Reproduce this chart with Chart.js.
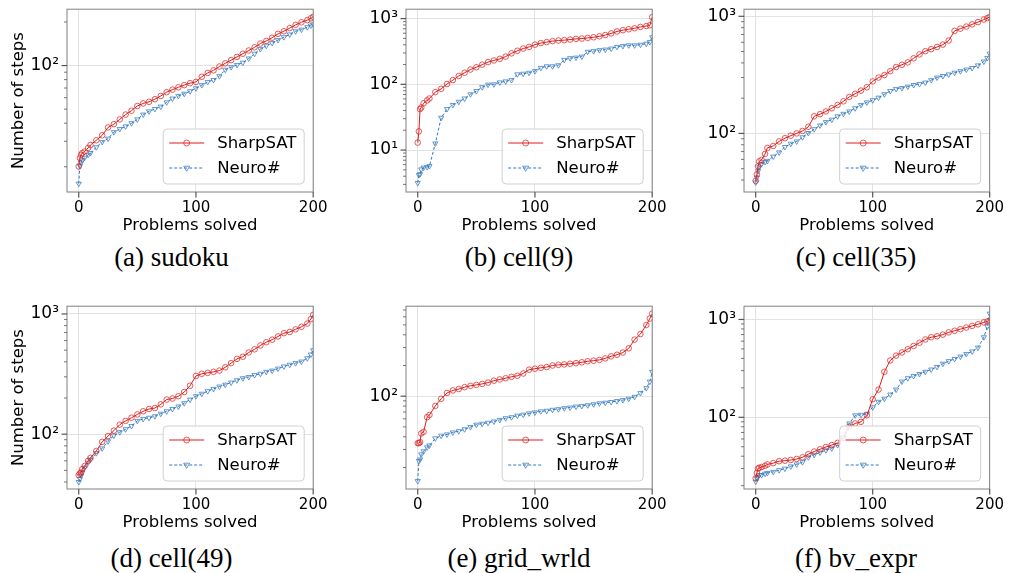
<!DOCTYPE html>
<html>
<head>
<meta charset="utf-8">
<title>Steps per problem solved</title>
<script src="https://cdn.jsdelivr.net/npm/chart.js@4.4.1/dist/chart.umd.min.js"></script>
<style>
  html, body { margin: 0; padding: 0; background: #fff; }
  body { width: 1011px; height: 573px; position: relative; overflow: hidden; }
  .panel { position: absolute; }
  .caption {
    position: absolute; width: 260px; text-align: center; white-space: nowrap;
    font-family: 'Liberation Serif', serif; font-size: 27px; line-height: 30px; color: #000;
  }
</style>
</head>
<body>

<script>
const problemsSolved = [0, 1, 2, 3, 5, 8, 10, 15, 20, 25, 30, 35, 40, 45, 50, 55, 60, 65, 70, 75,
  80, 85, 90, 95, 100, 105, 110, 115, 120, 125, 130, 135, 140, 145, 150, 155, 160, 165, 170, 175,
  180, 185, 190, 195, 198, 200];

// (a) sudoku
const sudokuSharp = [20.1, 23, 24.2, 24.9, 25.5, 27, 28.3, 30.5, 33, 37.4,
  39.4, 42.5, 45.9, 48.8, 52.6, 54.8, 56.2, 58.6, 61.7, 65.5,
  68.2, 70.8, 73.3, 75.6, 77.1, 83.7, 88.9, 92.7, 98.5, 103.6,
  109, 114.8, 120.7, 127, 133.7, 142, 148, 155.7, 165.6, 172.5,
  181.5, 191, 199, 206, 212, 217];
const sudokuNeuro = [15.3, 20.3, 21.4, 22.2, 23.1, 24.2, 24.9, 27.3, 29.7, 31.3,
  34.7, 36.5, 38, 40, 42.5, 45.9, 48.3, 50.2, 52.1, 55.7,
  59.2, 61.7, 63.9, 66.5, 69.7, 73.3, 77.1, 79.5, 84.5, 93.6,
  97.5, 101, 104.7, 112, 120.7, 130, 137, 143, 150, 157,
  164, 172.5, 177, 184, 189, 193];

// (b) cell(9)
const cell9Sharp = [13, 19.2, 42, 44.4, 51.4, 57, 60.8, 76.2, 85.3, 101,
  116, 134, 150, 168, 182, 199, 218, 231, 244, 264,
  296, 324, 350, 371, 401, 424, 439, 454, 464, 470,
  480, 491, 497, 508, 520, 538, 562, 595, 637, 667,
  689, 713, 746, 771, 790, 1050];
const cell9Neuro = [3.16, 4.15, 4.3, 5.08, 5.4, 5.5, 5.7, 12.6, 31, 42,
  48.5, 54.3, 60.8, 70.5, 78.9, 90.4, 98.9, 100, 107, 111,
  116, 142, 145, 150, 159, 178, 188, 188, 195, 236,
  250, 255, 264, 313, 320, 331, 338, 350, 371, 383,
  392, 392, 401, 415, 440, 520];

// (c) cell(35)
const cell35Sharp = [39.4, 44.7, 52.4, 57.6, 59.4, 66.8, 75.2, 78.1, 85.4, 91,
  95.7, 100, 105, 114, 140, 146, 154, 164, 175, 188,
  205, 218, 232, 248, 278, 300, 315, 340, 369, 386,
  404, 438, 473, 504, 524, 547, 573, 621, 751, 785,
  817, 853, 892, 938, 965, 987];
const cell35Neuro = [38.1, 42, 47.6, 51.4, 54.7, 57, 58.3, 63.4, 68.8, 76.6,
  81.6, 85.4, 92.7, 100.7, 108.6, 117, 125, 131, 140, 147,
  154, 164, 175, 184, 192, 202, 216, 230, 240, 244,
  251, 259, 264, 272, 285, 300, 309, 319, 330, 340,
  351, 362, 381, 411, 440, 480];

// (d) cell(49)
const cell49Sharp = [45.7, 47.1, 48, 51.2, 54.3, 60, 63.4, 72.6, 86.3, 96.4,
  107, 120, 129, 137, 146, 155, 162, 165, 177, 194,
  198, 207, 224, 253, 305, 318, 324, 330, 338, 360,
  390, 423, 441, 478, 508, 547, 582, 611, 650, 692,
  708, 745, 782, 832, 906, 982];
const cell49Neuro = [40, 42.5, 45.2, 48.1, 52.7, 58, 61.5, 69.5, 76.2, 87.3,
  97.5, 104, 110, 117, 129, 134, 137, 141, 148, 155,
  162, 170, 181, 194, 207, 217, 228, 238, 249, 258,
  269, 281, 292, 299, 310, 318, 330, 338, 351, 366,
  378, 390, 402, 428, 460, 499];

// (e) grid_wrld
const gridSharp = [34.6, 34.6, 35.4, 43.1, 44.7, 62.2, 65.5, 80.3, 94.4, 107.6,
  114, 117.5, 122.7, 126.4, 129, 132, 136, 142, 146, 150,
  155, 158.5, 167, 182, 186, 190, 193, 200, 203, 205,
  208, 211, 215, 220, 223, 227, 235, 246, 255, 268,
  295, 359, 407, 499, 578, 645];
const gridNeuro = [14.7, 23.2, 24, 26.9, 28.8, 31.5, 32.9, 38.6, 41, 42.2,
  44.1, 45.4, 47.4, 49.9, 52.6, 53.7, 54.9, 56.5, 58.6, 60.8,
  62.2, 64.5, 65.9, 67.9, 69.4, 71, 72, 73.6, 74.6, 76.3,
  77.4, 79.1, 80.3, 81.5, 83.3, 85.1, 86.4, 87.7, 89.6, 91.6,
  94.4, 98.6, 107.6, 120, 139, 173];

// (f) bv_expr
const bvSharp = [23.8, 27, 29.9, 30.5, 31, 32, 33, 34, 35.6, 36,
  36.6, 37.5, 39, 42, 44.7, 47.1, 49.7, 52, 54.8, 61.5,
  80.2, 86.5, 89.9, 104.7, 153, 192, 292, 381, 427, 460,
  497, 536, 578, 624, 658, 674, 700, 738, 766, 796,
  827, 859, 892, 934, 955, 975];
const bvNeuro = [22, 23.8, 24.6, 25.7, 25.7, 26.5, 27, 27.7, 28.8, 29.9,
  31.5, 33, 34.8, 39, 41.4, 43.7, 46, 48.2, 52, 61.5,
  86.5, 104.7, 106, 108.6, 126.5, 144, 155, 171, 192, 232,
  251, 264, 277, 292, 308, 327, 353, 375, 395, 417,
  444, 471, 516, 658, 846, 1146];

const seriesNames = ['SharpSAT', 'Neuro#'];
const captions = ['(a) sudoku', '(b) cell(9)', '(c) cell(35)', '(d) cell(49)', '(e) grid_wrld', '(f) bv_expr'];

// ticks
const xTicks = [0, 100, 200];
const yDecades = [1, 10, 100, 1000];
const yDecadeLabels = ['10⁰', '10¹', '10²', '10³'];
const minorSteps = [2, 3, 4, 5, 6, 7, 8, 9];

// axis ranges per panel
const yMins = [13.4, 2.3, 31.6, 35, 12.3, 18.5];
const yMaxs = [245, 1390, 1150, 1160, 763, 1366];

// layout: plot rectangle of each panel in page pixels
const plotRects = [
  { L: 66.5, T: 2.5, R: 316, B: 191.5 },
  { L: 405.5, T: 2.5, R: 655, B: 191.5 },
  { L: 743.5, T: 2.5, R: 992.5, B: 191.5 },
  { L: 66.5, T: 300, R: 316, B: 489 },
  { L: 405.5, T: 300, R: 655, B: 489 },
  { L: 743.5, T: 300, R: 992.5, B: 489 }
];
const captionPos = [
  { cx: 171.5, top: 242 }, { cx: 519, top: 242 }, { cx: 856, top: 242 },
  { cx: 171.5, top: 543 }, { cx: 519, top: 543 }, { cx: 856, top: 543 }
];

const Y_AXIS_W = 58, X_AXIS_H = 44, PAD_TOP = 12, PAD_RIGHT = 18;
const gridColor = '#e2e2e2';
const frameColor = '#808080';
const redLine = 'rgb(222, 28, 28)';
const redMark = 'rgba(222, 36, 36, 0.75)';
const blueLine = 'rgb(52, 122, 190)';
const blueMark = 'rgba(52, 122, 190, 0.75)';

Chart.defaults.font.family = "'DejaVu Sans', sans-serif";
Chart.defaults.color = '#000';

function logTicks(min, max) {
  const out = [];
  yDecades.forEach(d => {
    if (d >= min && d <= max) out.push(d);
    minorSteps.forEach(m => {
      const v = d * m;
      if (v >= min && v <= max) out.push(v);
    });
  });
  return out.sort((a, b) => a - b);
}

function decadeLabel(v) {
  const i = yDecades.indexOf(v);
  return i >= 0 ? yDecadeLabels[i] : '';
}

function drawMarker(ctx, style, x, y, r) {
  ctx.beginPath();
  if (style === 'circle') {
    ctx.arc(x, y, r, 0, Math.PI * 2);
  } else {
    // triangle pointing down
    ctx.moveTo(x - r, y - r * 0.6);
    ctx.lineTo(x + r, y - r * 0.6);
    ctx.lineTo(x, y + r * 1.1);
    ctx.closePath();
  }
  ctx.stroke();
}

// frame, tick marks and legend box drawn on top
const framePlugin = {
  id: 'frame',
  afterDraw(chart) {
    const ctx = chart.ctx;
    const a = chart.chartArea;
    const xs = chart.scales.x, ys = chart.scales.y;
    ctx.save();
    ctx.strokeStyle = frameColor;
    ctx.lineWidth = 1;
    ctx.strokeRect(a.left, a.top, a.right - a.left, a.bottom - a.top);

    ctx.strokeStyle = '#555';
    ys.ticks.forEach(t => {
      const y = ys.getPixelForValue(t.value);
      const major = yDecades.includes(t.value);
      ctx.lineWidth = major ? 1.2 : 0.8;
      ctx.beginPath();
      ctx.moveTo(a.left, y);
      ctx.lineTo(a.left - (major ? 5.5 : 3), y);
      ctx.stroke();
    });
    ctx.lineWidth = 1.2;
    xTicks.forEach(v => {
      const x = xs.getPixelForValue(v);
      ctx.beginPath();
      ctx.moveTo(x, a.bottom);
      ctx.lineTo(x, a.bottom + 5.5);
      ctx.stroke();
    });

    // legend
    const w = 141, h = 55;
    const x0 = a.right - 9 - w, y0 = a.bottom - 8 - h;
    ctx.beginPath();
    ctx.roundRect(x0, y0, w, h, 4);
    ctx.fillStyle = 'rgba(255,255,255,0.85)';
    ctx.fill();
    ctx.strokeStyle = '#d0d0d0';
    ctx.lineWidth = 1;
    ctx.stroke();
    chart.data.datasets.forEach((ds, i) => {
      const cy = y0 + 14 + i * 25;
      ctx.strokeStyle = ds.borderColor;
      ctx.lineWidth = 1.2;
      ctx.setLineDash(ds.borderDash || []);
      ctx.beginPath();
      ctx.moveTo(x0 + 6, cy);
      ctx.lineTo(x0 + 41, cy);
      ctx.stroke();
      ctx.setLineDash([]);
      ctx.strokeStyle = ds.pointBorderColor;
      ctx.lineWidth = 1;
      drawMarker(ctx, ds.pointStyle, x0 + 23.5, cy, 3);
      ctx.fillStyle = '#000';
      ctx.font = "16.5px 'DejaVu Sans', sans-serif";
      ctx.textBaseline = 'middle';
      ctx.textAlign = 'left';
      ctx.fillText(ds.label, x0 + 54, cy + 1);
    });
    ctx.restore();
  }
};

function makeDataset(label, values, isNeuro) {
  return {
    label: label,
    data: problemsSolved.map((x, i) => ({ x: x, y: values[i] })),
    borderColor: isNeuro ? blueLine : redLine,
    borderWidth: 1,
    borderDash: isNeuro ? [3, 2] : [],
    pointStyle: isNeuro ? 'triangle' : 'circle',
    pointRotation: isNeuro ? 180 : 0,
    pointRadius: isNeuro ? 3 : 2.8,
    pointBorderWidth: 1,
    pointBorderColor: isNeuro ? blueMark : redMark,
    pointBackgroundColor: 'rgba(255,255,255,0)',
    tension: 0
  };
}

function makePanel(idx, sharp, neuro) {
  const r = plotRects[idx];
  const div = document.createElement('div');
  div.className = 'panel';
  div.style.left = (r.L - Y_AXIS_W) + 'px';
  div.style.top = (r.T - PAD_TOP) + 'px';
  div.style.width = (r.R - r.L + Y_AXIS_W + PAD_RIGHT) + 'px';
  div.style.height = (r.B - r.T + PAD_TOP + X_AXIS_H) + 'px';
  const canvas = document.createElement('canvas');
  div.appendChild(canvas);
  document.body.appendChild(div);

  const cap = document.createElement('div');
  cap.className = 'caption';
  cap.textContent = captions[idx];
  cap.style.left = (captionPos[idx].cx - 130) + 'px';
  cap.style.top = captionPos[idx].top + 'px';
  document.body.appendChild(cap);

  const ymin = yMins[idx], ymax = yMaxs[idx];
  const showYTitle = idx % 3 === 0;

  new Chart(canvas, {
    type: 'line',
    data: {
      datasets: [
        makeDataset(seriesNames[0], sharp, false),
        makeDataset(seriesNames[1], neuro, true)
      ]
    },
    options: {
      responsive: true,
      maintainAspectRatio: false,
      animation: false,
      devicePixelRatio: 1,
      layout: { padding: { top: PAD_TOP, right: PAD_RIGHT, left: 0, bottom: 0 } },
      plugins: { legend: { display: false }, tooltip: { enabled: false } },
      scales: {
        x: {
          type: 'linear',
          min: -10,
          max: 200,
          afterBuildTicks: s => { s.ticks = xTicks.map(v => ({ value: v })); },
          afterFit: s => { s.height = X_AXIS_H; },
          ticks: { autoSkip: false, maxRotation: 0, padding: 7, font: { size: 15 }, color: '#000' },
          grid: { drawTicks: false, color: gridColor, lineWidth: 1 },
          border: { display: false },
          title: { display: true, text: 'Problems solved', font: { size: 16.5 }, padding: 0, color: '#000' }
        },
        y: {
          type: 'logarithmic',
          min: ymin,
          max: ymax,
          afterBuildTicks: s => { s.ticks = logTicks(ymin, ymax).map(v => ({ value: v })); },
          afterFit: s => { s.width = Y_AXIS_W; },
          ticks: { autoSkip: false, padding: 8, font: { size: 17 }, color: '#000', callback: v => decadeLabel(v) },
          grid: {
            drawTicks: false,
            lineWidth: 1,
            color: c => (c.tick && yDecades.includes(c.tick.value)) ? gridColor : 'rgba(0,0,0,0)'
          },
          border: { display: false },
          title: { display: showYTitle, text: 'Number of steps', font: { size: 16.5 }, padding: 0, color: '#000' }
        }
      }
    },
    plugins: [framePlugin]
  });
}

makePanel(0, sudokuSharp, sudokuNeuro);
makePanel(1, cell9Sharp, cell9Neuro);
makePanel(2, cell35Sharp, cell35Neuro);
makePanel(3, cell49Sharp, cell49Neuro);
makePanel(4, gridSharp, gridNeuro);
makePanel(5, bvSharp, bvNeuro);
</script>
</body>
</html>
